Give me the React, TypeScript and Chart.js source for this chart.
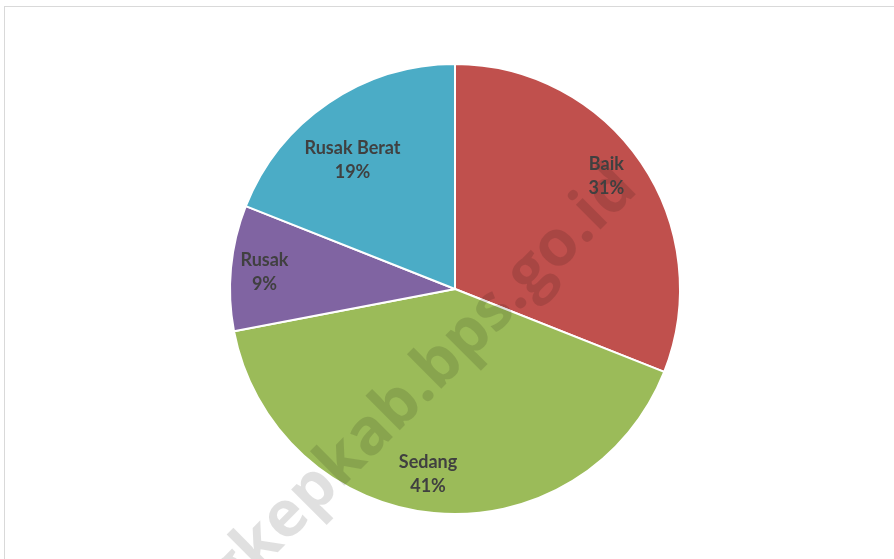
import React, { useEffect, useRef } from "react";
import { Chart, registerables } from "chart.js";

Chart.register(...registerables);

const categories = ["Baik", "Sedang", "Rusak", "Rusak Berat"];
const values = [31, 41, 9, 19];
const percentLabels = ["31%", "41%", "9%", "19%"];
const colors = ["#C0504D", "#9BBB59", "#8064A2", "#4BACC6"];
const labelRadius = [0.84, 0.83, 0.85, 0.73];
const labelAngleShift = [-2.6, 2.9, -0.4, -4.4];
const watermark = "pangkepkab.bps.go.id";

const labelPlugin = {
  id: "sliceLabels",
  afterDatasetsDraw(chart: any) {
    const ctx = chart.ctx;
    const meta = chart.getDatasetMeta(0);
    // watermark
    ctx.save();
    ctx.font = "bold 64px 'Open Sans'";
    ctx.fillStyle = "rgba(0,0,0,0.12)";
    const anchor = ctx.measureText("pangkepkab.bps").width + ctx.measureText(".").width / 2;
    ctx.translate(524, 306);
    ctx.rotate((-45 * Math.PI) / 180);
    ctx.textBaseline = "alphabetic";
    ctx.textAlign = "left";
    ctx.fillText(watermark, -anchor, 0);
    ctx.restore();

    ctx.save();
    ctx.font = "bold 18px Lato";
    ctx.fillStyle = "#404040";
    ctx.textAlign = "center";
    ctx.textBaseline = "middle";
    meta.data.forEach((arc: any, i: number) => {
      const { x, y, startAngle, endAngle, outerRadius } = arc.getProps(
        ["x", "y", "startAngle", "endAngle", "outerRadius"],
        true
      );
      const mid = (startAngle + endAngle) / 2 + (labelAngleShift[i] * Math.PI) / 180;
      const r = outerRadius * labelRadius[i];
      const cx = x + Math.cos(mid) * r;
      const cy = y + Math.sin(mid) * r;
      ctx.fillText(categories[i], cx, cy - 12);
      ctx.fillText(percentLabels[i], cx, cy + 12);
    });
    ctx.restore();
  },
};

export default function App() {
  const ref = useRef<HTMLCanvasElement>(null);
  useEffect(() => {
    document.body.style.margin = "0";
    const chart = new Chart(ref.current!, {
      type: "pie",
      data: {
        labels: categories,
        datasets: [
          {
            data: values,
            backgroundColor: colors,
            borderColor: "#ffffff",
            borderWidth: 2,
          },
        ],
      },
      options: {
        animation: false,
        responsive: false,
        layout: { padding: { left: 229, right: 213, top: 63, bottom: 44 } },
        plugins: {
          legend: { display: false },
          tooltip: { enabled: false },
        },
      },
      plugins: [labelPlugin],
    });
    return () => chart.destroy();
  }, []);
  return (
    <div style={{ position: "relative", width: 894, height: 559, background: "#fff", overflow: "hidden" }}>
      <div
        style={{
          position: "absolute",
          left: 4,
          top: 6,
          width: 900,
          height: 600,
          border: "1px solid #d9d9d9",
          boxSizing: "border-box",
        }}
      />
      <canvas ref={ref} width={894} height={559} style={{ position: "absolute", left: 0, top: 0 }} />
    </div>
  );
}
